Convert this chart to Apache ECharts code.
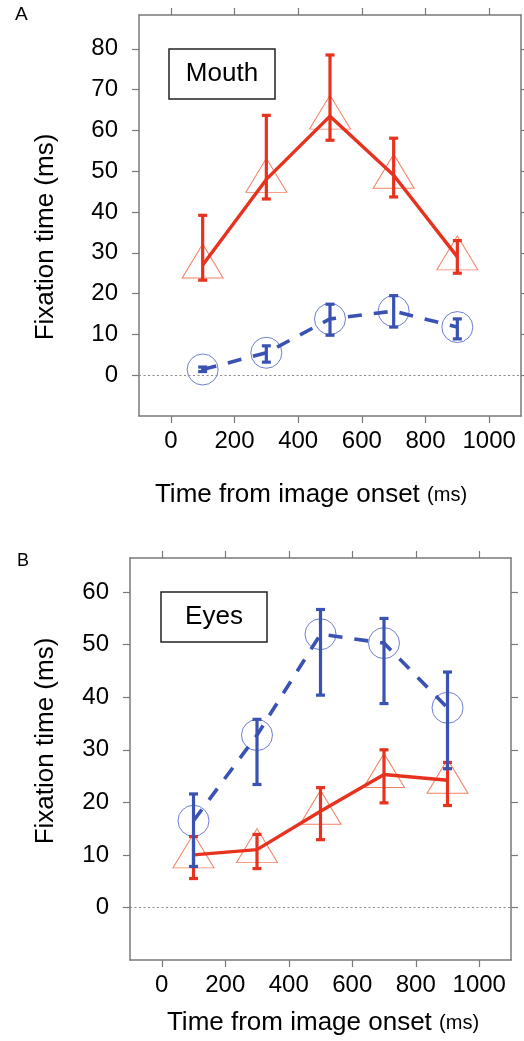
<!DOCTYPE html>
<html>
<head>
<meta charset="utf-8">
<script src="https://cdn.jsdelivr.net/npm/echarts@6/dist/echarts.min.js"></script>
<style>
  html, body { margin: 0; padding: 0; background: #fff; }
  #chart { width: 524px; height: 1041px; }
</style>
</head>
<body>
<div id="chart"></div>
<script>
// Time points (ms) and tick values
const timePoints = [100, 300, 500, 700, 900];
const xTicks = [0, 200, 400, 600, 800, 1000];
const mouthYTicks = [0, 10, 20, 30, 40, 50, 60, 70, 80];
const eyesYTicks = [0, 10, 20, 30, 40, 50, 60];

// Panel A: Mouth
const mouthRedMean = [27, 48, 63.5, 49, 29];
const mouthRedLow = [23.3, 43.2, 57.6, 43.7, 25];
const mouthRedHigh = [39.2, 63.7, 78.5, 58.1, 33];
const mouthBlueMean = [1.4, 5.5, 13.8, 15.7, 11.8];
const mouthBlueLow = [0.9, 3.2, 9.8, 11.8, 8.9];
const mouthBlueHigh = [2.0, 7.2, 17.4, 19.5, 13.8];

// Panel B: Eyes
const eyesRedMean = [10, 11, 18.3, 25.3, 24.2];
const eyesRedLow = [5.5, 7.4, 12.9, 19.9, 19.4];
const eyesRedHigh = [13.5, 13.9, 22.8, 30, 27.6];
const eyesBlueMean = [16.5, 32.8, 52, 50.3, 38];
const eyesBlueLow = [7.8, 23.4, 40.4, 38.8, 26.4];
const eyesBlueHigh = [21.6, 35.8, 56.7, 55, 44.8];

const RED = '#e6321e';
const RED_MARK = '#f0603c';
const BLUE = '#3a52b2';
const BLUE_MARK = '#4a5ec6';
const AXIS = '#7a7a7a';
const FONT = '"Liberation Sans", Arial, Helvetica, sans-serif';

function pairs(xs, ys) {
    return xs.map((x, i) => [x, ys[i]]);
}

function xAxisPair(gridIndex) {
    const base = {
        type: 'value', gridIndex: gridIndex, min: -100, max: 1100,
        splitLine: { show: false },
        axisLine: { show: true, onZero: false, lineStyle: { color: AXIS, width: 1.5 } },
        axisTick: { show: true, length: 7, customValues: xTicks, lineStyle: { color: AXIS, width: 1.2 } }
    };
    return [
        Object.assign({}, base, {
            position: 'bottom',
            axisLabel: {
                customValues: xTicks, margin: 13, color: '#000', fontSize: 24, fontFamily: FONT,
                formatter: v => String(v)
            }
        }),
        Object.assign({}, base, { position: 'top', axisLabel: { show: false } })
    ];
}

function yAxisPair(gridIndex, max, ticks) {
    const base = {
        type: 'value', gridIndex: gridIndex, min: -10, max: max,
        splitLine: { show: false },
        axisLine: { show: true, onZero: false, lineStyle: { color: AXIS, width: 1.5 } },
        axisTick: { show: true, length: 7, customValues: ticks, lineStyle: { color: AXIS, width: 1.2 } }
    };
    return [
        Object.assign({}, base, {
            position: 'left',
            axisLabel: {
                customValues: ticks, margin: 21, color: '#000', fontSize: 24, fontFamily: FONT,
                formatter: v => String(v)
            }
        }),
        Object.assign({}, base, { position: 'right', axisLabel: { show: false } })
    ];
}

function errorBars(axisIndex, low, high, color) {
    return {
        type: 'custom',
        xAxisIndex: axisIndex, yAxisIndex: axisIndex,
        z: 5,
        encode: { x: 0, y: [1, 2] },
        data: timePoints.map((x, i) => [x, low[i], high[i]]),
        renderItem: function (params, api) {
            const top = api.coord([api.value(0), api.value(2)]);
            const bot = api.coord([api.value(0), api.value(1)]);
            const style = { stroke: color, lineWidth: 3.2 };
            const cap = 4.5;
            return {
                type: 'group',
                children: [
                    { type: 'line', shape: { x1: top[0], y1: top[1], x2: bot[0], y2: bot[1] }, style: style },
                    { type: 'line', shape: { x1: top[0] - cap, y1: top[1], x2: top[0] + cap, y2: top[1] }, style: style },
                    { type: 'line', shape: { x1: bot[0] - cap, y1: bot[1], x2: bot[0] + cap, y2: bot[1] }, style: style }
                ]
            };
        }
    };
}

function panelSeries(axisIndex, redMean, redLow, redHigh, blueMean, blueLow, blueHigh) {
    return [
        {
            type: 'scatter', xAxisIndex: axisIndex, yAxisIndex: axisIndex, z: 2,
            data: pairs(timePoints, redMean),
            symbol: 'triangle', symbolSize: [41, 34], symbolOffset: [0, -4],
            itemStyle: { color: 'rgba(0,0,0,0)', borderColor: RED_MARK, borderWidth: 1 }
        },
        {
            type: 'scatter', xAxisIndex: axisIndex, yAxisIndex: axisIndex, z: 2,
            data: pairs(timePoints, blueMean),
            symbol: 'circle', symbolSize: 31,
            itemStyle: { color: 'rgba(0,0,0,0)', borderColor: BLUE_MARK, borderWidth: 1 }
        },
        {
            type: 'line', xAxisIndex: axisIndex, yAxisIndex: axisIndex, z: 3,
            data: pairs(timePoints, redMean),
            showSymbol: false,
            lineStyle: { color: RED, width: 3.4 },
            markLine: {
                silent: true, symbol: 'none', label: { show: false },
                lineStyle: { color: '#8a8a8a', type: [2, 2.5], width: 1 },
                data: [{ yAxis: 0 }]
            }
        },
        {
            type: 'line', xAxisIndex: axisIndex, yAxisIndex: axisIndex, z: 3,
            data: pairs(timePoints, blueMean),
            showSymbol: false,
            lineStyle: { color: BLUE, width: 3.6, type: [14, 12] }
        },
        errorBars(axisIndex, redLow, redHigh, RED),
        errorBars(axisIndex, blueLow, blueHigh, BLUE)
    ];
}

function boxedLabel(x, y, w, h, label) {
    return {
        type: 'group',
        children: [
            { type: 'rect', shape: { x: x, y: y, width: w, height: h }, style: { fill: '#fff', stroke: '#222', lineWidth: 1.5 } },
            { type: 'text', x: x + w / 2, y: y + h / 2, style: { text: label, fill: '#000', font: '26px ' + FONT, align: 'center', verticalAlign: 'middle' } }
        ]
    };
}

function axisTitle(x, y, rotation) {
    return {
        type: 'text', x: x, y: y, rotation: rotation,
        style: {
            text: rotation ? 'Fixation time (ms)' : 'Time from image onset {s|(ms)}',
            fill: '#000', fontSize: 26, fontFamily: FONT,
            align: 'center', verticalAlign: 'middle',
            rich: { s: { fontSize: 20, fontFamily: FONT, fill: '#000' } }
        }
    };
}

const chart = echarts.init(document.getElementById('chart'), null, { renderer: 'canvas' });

const xA = xAxisPair(0);
const xB = xAxisPair(1);
const yA = yAxisPair(0, 88.3, mouthYTicks);
const yB = yAxisPair(1, 66.5, eyesYTicks);

chart.setOption({
    animation: false,
    backgroundColor: '#fff',
    grid: [
        { left: 139, top: 15, width: 382, height: 401 },
        { left: 130, top: 558, width: 381, height: 402 }
    ],
    // bottom axes first (A, B), then the mirrored top/right ones
    xAxis: [xA[0], xB[0], xA[1], xB[1]],
    yAxis: [yA[0], yB[0], yA[1], yB[1]],
    series: panelSeries(0, mouthRedMean, mouthRedLow, mouthRedHigh, mouthBlueMean, mouthBlueLow, mouthBlueHigh)
        .concat(panelSeries(1, eyesRedMean, eyesRedLow, eyesRedHigh, eyesBlueMean, eyesBlueLow, eyesBlueHigh)),
    graphic: [
        { type: 'text', x: 15, y: 15, style: { text: 'A', fill: '#000', font: '19px ' + FONT, verticalAlign: 'middle' } },
        { type: 'text', x: 17, y: 561, style: { text: 'B', fill: '#000', font: '18px ' + FONT, verticalAlign: 'middle' } },
        boxedLabel(169, 49, 106, 50, 'Mouth'),
        boxedLabel(161, 592, 106, 50, 'Eyes'),
        axisTitle(46, 237, Math.PI / 2),
        axisTitle(46, 741, Math.PI / 2),
        axisTitle(311, 495, 0),
        axisTitle(323, 1023, 0)
    ]
});
</script>
</body>
</html>
